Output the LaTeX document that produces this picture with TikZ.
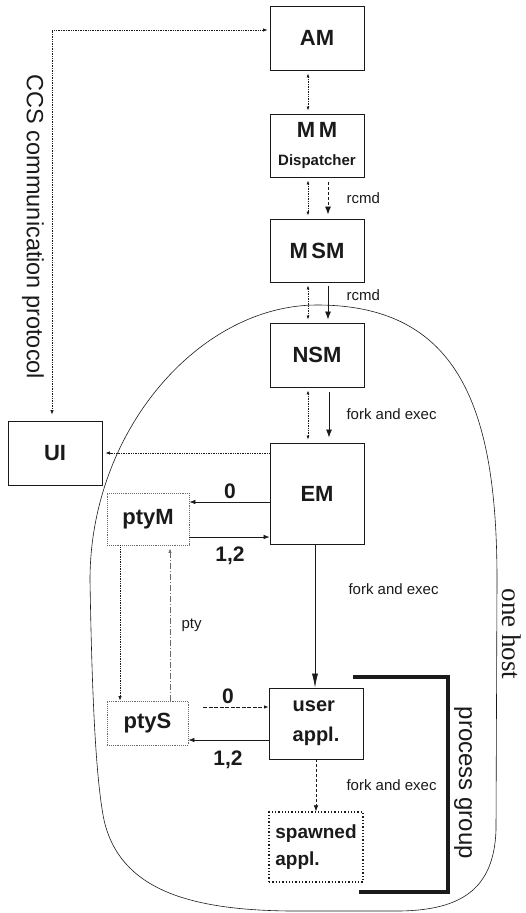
\documentclass[tikz,border=0pt]{standalone}
\usepackage{fontspec}
\setmainfont{Liberation Sans}
\newfontfamily\hostfont{Liberation Serif}
\usetikzlibrary{arrows.meta,calc}
\definecolor{ink}{HTML}{1A1A1A}
\definecolor{faint}{HTML}{6A6A6A}
\tikzset{
  box/.style={draw=ink, line width=0.9pt, minimum width=94pt, inner sep=0pt, text=ink,
    font=\bfseries\fontsize{22}{26}\selectfont},
  ptybox/.style={box, draw=faint, densely dotted, minimum width=82pt},
  spawnbox/.style={box, line width=1.3pt, dotted, align=left, font=\bfseries\fontsize{19}{27}\selectfont},
  dots/.style={draw=ink, densely dotted, line width=0.7pt},
  tip/.style={-{Latex[length=4.5pt,width=3.5pt]}},
  bidir/.style={dots, {Latex[length=4pt,width=3pt]}-{Latex[length=4pt,width=3pt]}, shorten <=3pt, shorten >=3pt},
  flow/.style={draw=ink, line width=0.8pt, -{Latex[length=8pt,width=6pt]}},
  thin/.style={draw=ink, line width=0.6pt, -{Latex[length=6pt,width=4.5pt]}},
  small/.style={font=\fontsize{15}{17}\selectfont, text=ink, anchor=west},
  num/.style={font=\bfseries\fontsize{21}{23}\selectfont, text=ink},
  side/.style={font=\fontsize{23.5}{26}\selectfont, text=ink, rotate=-90}
}

\begin{document}
\begin{tikzpicture}[x=1pt,y=-1pt]
  \useasboundingbox (0,0) rectangle (525,913);

  \draw[ink, line width=0.6pt] (90,580) .. controls (90,430) and (200,305) .. (317,305)
    .. controls (460,305) and (497,410) .. (497,580) -- (496,830)
    .. controls (494,890) and (460,910) .. (400,911) -- (290,911)
    .. controls (190,910) and (120,890) .. (104,820)
    .. controls (96,780) and (92,700) .. cycle;

  \node[box, minimum height=64pt] (AM) at (317,38) {AM};
  \node[box, minimum height=63pt, align=center] (MM) at (317,145.5) {M\,M\\[2pt]{\fontsize{15}{17}\selectfont Dispatcher}};
  \node[box, minimum height=63pt] (MSM) at (317,250.5) {M\,SM};
  \node[box, minimum height=64pt] (NSM) at (317,355) {NSM};
  \node[box, minimum height=64pt] (UI) at (55,453) {UI};
  \node[box, minimum height=101pt] (EM) at (317,493.5) {EM};
  \node[ptybox, minimum height=52pt] (ptyM) at (148,519) {ptyM};
  \node[ptybox, minimum height=44pt, minimum width=81pt] (ptyS) at (147.5,723) {ptyS};
  \node[box, minimum height=71pt, align=left, font=\bfseries\fontsize{20}{30}\selectfont] (user) at (316,723.5) {user\\appl.};
  \node[spawnbox, minimum height=70pt] (spawn) at (316,847) {spawned\\appl.};

  \draw[dots, {Latex[length=4.5pt,width=3.5pt]}-{Latex[length=4.5pt,width=3.5pt]}, shorten <=6pt, shorten >=2pt]
    ([xshift=-3pt]UI.north) |- ([yshift=8pt]AM.west);
  \node[side] (ccs) at (33,227) {CCS communication protocol};

  \draw[bidir] ([xshift=-9pt]AM.south) -- ([xshift=-9pt]MM.north);
  \draw[bidir] ([xshift=-9pt]MM.south) -- ([xshift=-9pt]MSM.north);
  \draw[bidir] ([xshift=-9pt]MSM.south) -- ([xshift=-9pt]NSM.north);
  \draw[bidir] ([xshift=-9pt]NSM.south) -- ([xshift=-9pt]EM.north);

  \draw[flow, densely dashed, shorten <=5pt, shorten >=4pt] ([xshift=11pt]MM.south) -- ([xshift=11pt]MSM.north);
  \draw[flow, shorten <=4pt, shorten >=3pt] ([xshift=11pt]MSM.south) -- ([xshift=11pt]NSM.north);
  \draw[flow, shorten <=5pt, shorten >=5pt] ([xshift=12pt]NSM.south) -- ([xshift=12pt]EM.north);
  \node[small] (rcmdA) at (343,198) {rcmd};
  \node[small] (rcmdB) at (343,295) {rcmd};
  \node[small] (forkA) at (343,414) {fork and exec};

  \draw[dots, tip, shorten >=3pt] (EM.west |- UI.east) -- (UI.east);

  \draw[thin] ([yshift=-8.5pt]EM.west) -- ([yshift=-8.5pt]EM.west -| ptyM.east);
  \draw[thin] ([yshift=-18pt]ptyM.east) -- ([yshift=-18pt]ptyM.east -| EM.west);
  \node[num] (zeroM) at (230,491) {0};
  \node[num] (oneM) at (230,556) {1,2};

  \draw[thin, -{Latex[length=14pt,width=6pt]}] ([xshift=-2pt]EM.south) -- ([xshift=-1pt]user.north);
  \node[small] (forkB) at (345,589) {fork and exec};

  \draw[dots, tip] ([xshift=-28pt]ptyM.south) -- ([xshift=-28pt]ptyM.south |- ptyS.north);
  \draw[draw=faint, line width=0.7pt, dash pattern=on 6pt off 2pt on 1pt off 2pt, tip, shorten >=3pt]
    ([xshift=22.5pt]ptyS.north) -- ([xshift=22.5pt]ptyS.north |- ptyM.south);
  \node[small] (ptylab) at (178,625) {pty};

  \coordinate (sStart) at (203,707);
  \draw[dots, dash pattern=on 4pt off 1.5pt, tip] (sStart) -- (sStart -| user.west);
  \draw[thin] ([yshift=-16.5pt]user.west) -- ([yshift=-16.5pt]user.west -| ptyS.east);
  \node[num] (zeroS) at (228,696) {0};
  \node[num] (oneS) at (228,760) {1,2};

  \draw[thin, densely dashed] (user.south) -- (spawn.north);
  \node[small] (forkC) at (343,785) {fork and exec};

  \draw[ink, line width=4pt] (353,677) -- (448,677) -- (448,892) -- (359,892);
  \node[side, font=\fontsize{24}{26}\selectfont] (pg) at (463,783) {process group};
  \node[side, font=\hostfont\fontsize{27}{30}\selectfont] (host) at (512,634) {one host};
\end{tikzpicture}
\end{document}
